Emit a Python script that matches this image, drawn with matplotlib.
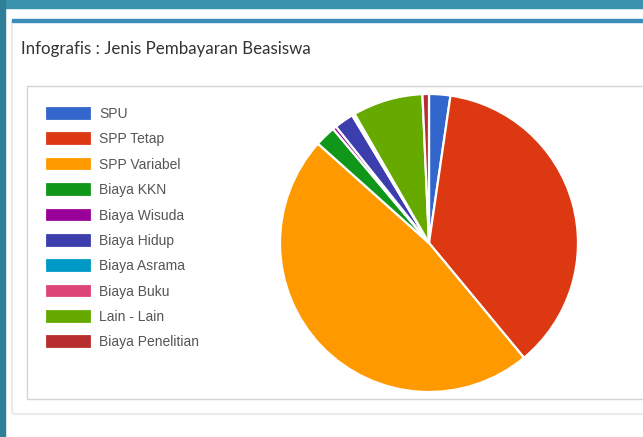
import matplotlib

matplotlib.use("Agg")
import matplotlib.pyplot as plt
from matplotlib.patches import Rectangle, FancyBboxPatch

W, H = 643, 437

labels = ["SPU", "SPP Tetap", "SPP Variabel", "Biaya KKN", "Biaya Wisuda",
          "Biaya Hidup", "Biaya Asrama", "Biaya Buku", "Lain - Lain", "Biaya Penelitian"]
values = [2.3, 36.6, 47.5, 2.25, 0.4, 2.1, 0.15, 0.15, 7.6, 0.7]
colors = ["#3366CC", "#DC3912", "#FF9900", "#109618", "#990099",
          "#3B3EAC", "#0099C6", "#DD4477", "#66AA00", "#B82E2E"]
title = "Infografis : Jenis Pembayaran Beasiswa"

fig = plt.figure(figsize=(W / 100, H / 100), dpi=100)

# page background + card, in pixel coordinates
bg = fig.add_axes([0, 0, 1, 1])
bg.set_xlim(0, W)
bg.set_ylim(H, 0)
bg.axis("off")
bg.add_patch(Rectangle((0, 0), W, H, color="white"))
bg.add_patch(Rectangle((0, 0), W, 8, color="#3a92ad"))
bg.add_patch(Rectangle((0, 0), 5, H, color="#2f7f98"))
bg.add_patch(FancyBboxPatch((12, 20), W, 394, boxstyle="round,pad=0,rounding_size=3",
                            facecolor="white", edgecolor="#e6e6e6", lw=1.2))
bg.add_patch(Rectangle((12, 19), W, 3, color="#3c8dbc"))
bg.add_patch(Rectangle((27, 86), W, 313, facecolor="white", edgecolor="#d4d4d4", lw=1))
bg.text(21, 49, title, fontsize=12.2, family="Lato", color="#333333", va="center", ha="left")

# pie
cx, cy, r = 429, 243, 149
ax = fig.add_axes([(cx - r) / W, (H - cy - r) / H, 2 * r / W, 2 * r / H])
wedges, _ = ax.pie(values, colors=colors, startangle=90, counterclock=False, radius=1,
                   wedgeprops=dict(edgecolor="white", linewidth=1.6))
ax.set_xlim(-1, 1)
ax.set_ylim(-1, 1)
ax.set_aspect("auto")
ax.axis("off")

leg = fig.legend(wedges, labels, loc="upper left",
                 bbox_to_anchor=(45 / W, 1 - 106 / H), frameon=False,
                 prop=dict(family="Liberation Sans", size=10),
                 handlelength=3.4, handleheight=1.24, handletextpad=0.5,
                 labelspacing=0.75, borderpad=0, borderaxespad=0)
for t in leg.get_texts():
    t.set_color("#555555")

fig.savefig("out.png", dpi=100)
